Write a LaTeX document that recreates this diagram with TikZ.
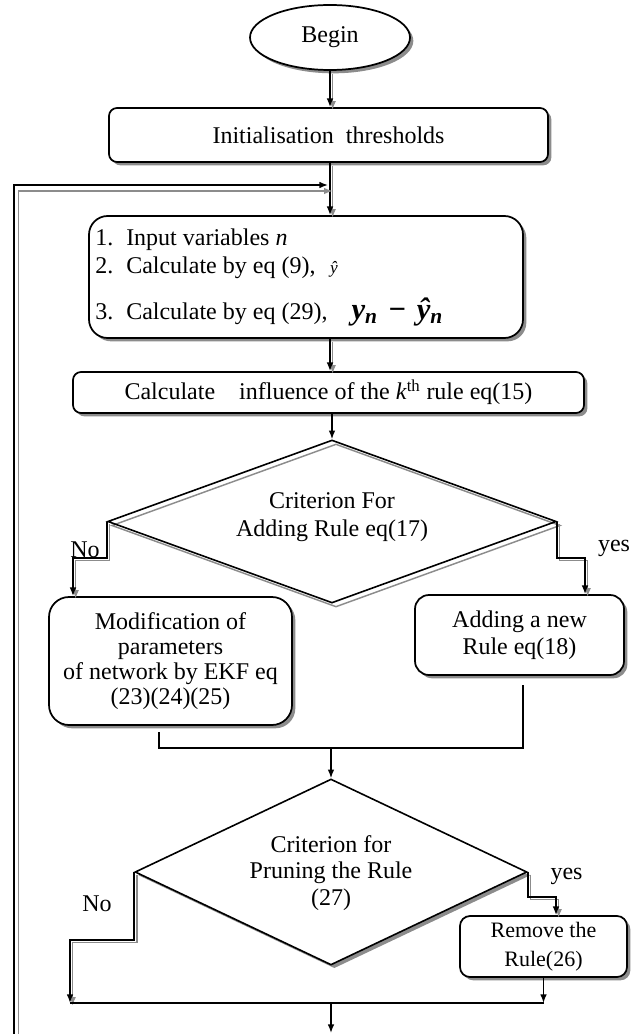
\documentclass[tikz,border=0pt]{standalone}
\usepackage{fontspec}
\setmainfont{Liberation Serif}
\usetikzlibrary{shapes.geometric,shadows,arrows.meta}
\definecolor{shgray}{gray}{0.55}
\begin{document}
\begin{tikzpicture}[x=0.75pt,y=-0.75pt,
  mainfont/.style={font=\fontsize{18}{18.75}\selectfont},
  box/.style={draw, line width=1.3pt, rounded corners=#1, fill=white,
    drop shadow={shadow xshift=2.5pt, shadow yshift=-2.5pt, fill=shgray, opacity=1}},
  box/.default=6pt,
  txt/.style={mainfont, align=center, inner sep=0pt},
  conn/.style={line width=1.1pt},
  arr/.style={conn, -{Latex[length=6.5pt,width=5pt]}},
  sh/.style={preaction={draw=shgray, line width=1.1pt, transform canvas={shift={(2pt,-2pt)}}}},
  loopsh/.style={preaction={draw=shgray, line width=1.1pt, transform canvas={shift={(3.5pt,-4.5pt)}}}},
]
\useasboundingbox (0,0) rectangle (640,1034);

% nodes
\node[ellipse, draw, line width=1.3pt, fill=white, minimum width=120pt, minimum height=48.75pt,
  drop shadow={shadow xshift=2.5pt, shadow yshift=-2.5pt, fill=shgray, opacity=1}, mainfont]
  (begin) at (330,37.5) {Begin};
\node[box=6pt, minimum width=329.25pt, minimum height=40.5pt, mainfont] (init) at (328.5,135)
  {Initialisation\ \ thresholds};
\node[box=14pt, minimum width=325.5pt, minimum height=91.5pt] (input) at (306,277) {};
\node[txt, anchor=base west] (in1) at (95,245) {\makebox[23.25pt][l]{1.}Input variables\ \textit{n}};
\node[txt, anchor=base west] (in2) at (95,273) {\makebox[23.25pt][l]{2.}Calculate by eq (9),\hspace{11pt}{\fontsize{13}{13}\selectfont\itshape ŷ}};
\node[txt, anchor=base west] (in3) at (95,319) {\makebox[23.25pt][l]{3.}Calculate by eq (29),\hspace{18pt}{\fontsize{23}{23}\selectfont\bfseries\itshape y\textsubscript{n}\,\,−\,\,ŷ\textsubscript{n}}};
\node[box=6pt, minimum width=383.25pt, minimum height=30.75pt, mainfont] (calc) at (328.5,392.5)
  {Calculate\hspace{18pt}influence of the \textit{k}\textsuperscript{th} rule eq(15)};

\node[diamond, draw, line width=1.2pt, minimum width=336.4pt, minimum height=122.25pt, inner sep=0pt,
  preaction={draw=shgray, line width=1.1pt, transform canvas={shift={(3pt,-3pt)}}}]
  (d1) at (332,521.5) {};
\node[txt, font=\fontsize{18}{21}\selectfont] (d1t) at (332,517) {Criterion For\\Adding Rule eq(17)};

\node[box=15pt, minimum width=182.25pt, minimum height=96pt, txt] (mod) at (170.5,661)
  {Modification of\\parameters\\of network by EKF eq\\(23)(24)(25)};
\node[box=10.5pt, minimum width=156.75pt, minimum height=60pt, txt, font=\fontsize{18}{20.5}\selectfont] (add) at (519.5,635)
  {Adding a new\\Rule eq(18)};

\node[diamond, draw, line width=1.2pt, fill=white, minimum width=294pt, minimum height=139.5pt, inner sep=0pt,
  drop shadow={shadow xshift=2.5pt, shadow yshift=-2.5pt, fill=shgray, opacity=1}]
  (d2) at (331,872) {};
\node[txt, font=\fontsize{18}{20}\selectfont] (d2t) at (331,873) {Criterion for\\Pruning the Rule\\(27)};

\node[box=7.5pt, minimum width=125.25pt, minimum height=45.75pt, txt, font=\fontsize{16.5}{21.5}\selectfont] (rem) at (543.5,946.5)
  {Remove the\\Rule(26)};

% labels
\node[txt] (no1) at (85,550) {No};
\node[txt] (yes1) at (614,548) {yes};
\node[txt] (no2) at (97,904) {No};
\node[txt] (yes2) at (566.5,876) {yes};

% coordinates
\coordinate (cx) at (330,0);
\coordinate (lb) at (14,1034);
\coordinate (lt) at (328,185);
\coordinate (n1) at (73,558);
\coordinate (y1) at (585,558);
\coordinate (m1t) at (159,732);
\coordinate (m1) at (159,748);
\coordinate (m2) at (523,748);
\coordinate (m2t) at (523,685);
\coordinate (mc) at (331,748);
\coordinate (n2) at (70,940);
\coordinate (bl) at (70,1003);
\coordinate (y2) at (556,897);
\coordinate (bc) at (331,1003);
\coordinate (bend) at (331,1033);

% connectors
\draw[arr,sh] (begin.south) -- (begin.south |- init.north);
\draw[arr,sh] (cx |- init.south) -- (cx |- input.north);
\draw[arr,loopsh] (lb) |- (lt);
\draw[arr,sh] (cx |- input.south) -- (cx |- calc.north);
\draw[arr] (d1.north |- calc.south) -- (d1.north);
\draw[arr,sh] (d1.west) |- (n1) -- (n1 |- mod.north);
\draw[arr,sh] (d1.east) |- (y1) -- (y1 |- add.north);
\draw[conn] (m1t) -- (m1) -- (m2) -- (m2t);
\draw[arr] (mc) -- (d2.north);
\draw[arr,sh] (d2.west) |- (n2) -- (bl);
\draw[arr,sh] (d2.east) |- (y2) -- (y2 |- rem.north);
\draw[arr] (rem.south) -- (rem.south |- bl);
\draw[conn] (bl) -- (rem.south |- bl);
\draw[arr] (bc) -- (bend);
\end{tikzpicture}
\end{document}
